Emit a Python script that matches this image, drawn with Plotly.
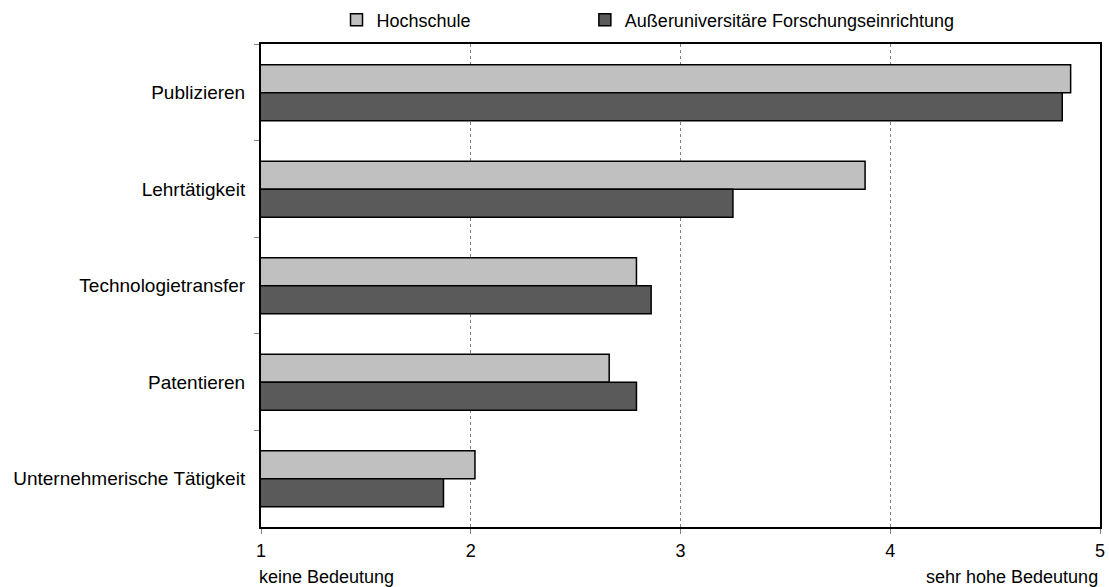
import plotly.graph_objects as go

# Bewertung der Aktivitäten (1 = keine Bedeutung, 5 = sehr hohe Bedeutung)
categories = ["Publizieren", "Lehrtätigkeit", "Technologietransfer",
              "Patentieren", "Unternehmerische Tätigkeit"]
hochschule = [4.86, 3.88, 2.79, 2.66, 2.02]
ausseruniv = [4.82, 3.25, 2.86, 2.79, 1.87]
series_names = ["Hochschule", "Außeruniversitäre Forschungseinrichtung"]
x_ticks = [1, 2, 3, 4, 5]
x_left_label = "keine Bedeutung"
x_right_label = "sehr hohe Bedeutung"

FONT = "Liberation Sans, Arial, sans-serif"
FS_CAT = 19
FS = 18

fig = go.Figure()
fig.add_trace(go.Bar(
    y=categories, x=hochschule, name=series_names[0], orientation="h",
    marker=dict(color="#C0C0C0", line=dict(color="#000000", width=1.5)),
    legend="legend",
))
fig.add_trace(go.Bar(
    y=categories, x=ausseruniv, name=series_names[1], orientation="h",
    marker=dict(color="#5A5A5A", line=dict(color="#000000", width=1.5)),
    legend="legend2",
))

legend_common = dict(orientation="h", xanchor="left",
                     yref="container", y=0.966, yanchor="middle",
                     font=dict(size=FS), itemwidth=30,
                     bgcolor="rgba(0,0,0,0)")

fig.update_layout(
    width=1109, height=587,
    margin=dict(l=261, r=4, t=42, b=60),
    paper_bgcolor="white", plot_bgcolor="white",
    font=dict(family=FONT, size=FS, color="#000000"),
    barmode="group", bargap=0.42, bargroupgap=0,
    showlegend=True,
    legend=dict(x=0.090, **legend_common),
    legend2=dict(x=0.386, **legend_common),
    xaxis=dict(range=[1, 5], tickvals=x_ticks, ticktext=[str(v) for v in x_ticks],
               showgrid=True, gridcolor="#808080", gridwidth=1, griddash="dot",
               showline=True, linecolor="#000000", linewidth=2, mirror=True,
               ticks="outside", ticklen=5, tickcolor="#808080",
               ticklabelstandoff=1, tickfont=dict(size=FS),
               zeroline=False, fixedrange=True),
    yaxis=dict(autorange="reversed", type="category", tickson="boundaries",
               showgrid=False, showline=True, linecolor="#000000", linewidth=2,
               mirror=True, ticks="outside", ticklen=5, tickcolor="#808080",
               ticklabelstandoff=10, tickfont=dict(size=FS_CAT), fixedrange=True),
    annotations=[
        dict(text=x_left_label, xref="paper", yref="paper", x=0, y=0,
             xanchor="left", yanchor="middle", yshift=-50, xshift=-4,
             showarrow=False, font=dict(size=FS)),
        dict(text=x_right_label, xref="paper", yref="paper", x=1, y=0,
             xanchor="right", yanchor="middle", yshift=-50, xshift=0,
             showarrow=False, font=dict(size=FS)),
    ],
)

fig.write_html("out.html")
